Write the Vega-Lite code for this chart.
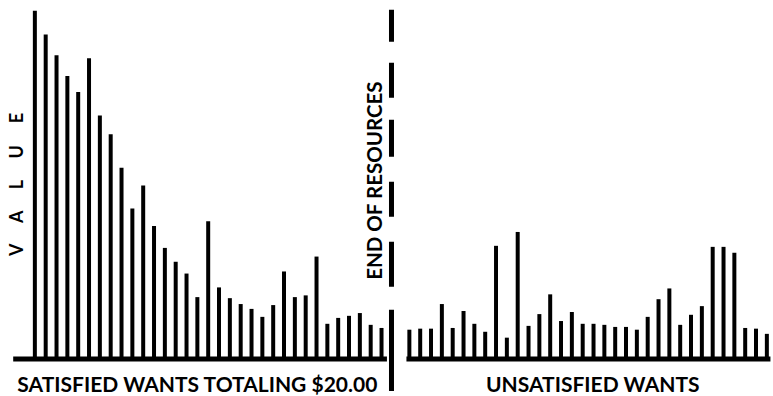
{
  "$schema": "https://vega.github.io/schema/vega-lite/v6.json",
  "width": 773,
  "height": 396,
  "padding": 0,
  "autosize": {"type": "fit", "contains": "padding"},
  "background": "white",
  "config": {"view": {"stroke": null}},
  "datasets": {
    "bars": [
      {"pos": 1, "value": 100.0, "group": "satisfied"},
      {"pos": 2, "value": 93.2, "group": "satisfied"},
      {"pos": 3, "value": 87.2, "group": "satisfied"},
      {"pos": 4, "value": 81.2, "group": "satisfied"},
      {"pos": 5, "value": 76.6, "group": "satisfied"},
      {"pos": 6, "value": 86.3, "group": "satisfied"},
      {"pos": 7, "value": 69.8, "group": "satisfied"},
      {"pos": 8, "value": 64.4, "group": "satisfied"},
      {"pos": 9, "value": 54.7, "group": "satisfied"},
      {"pos": 10, "value": 43.0, "group": "satisfied"},
      {"pos": 11, "value": 49.6, "group": "satisfied"},
      {"pos": 12, "value": 37.9, "group": "satisfied"},
      {"pos": 13, "value": 31.6, "group": "satisfied"},
      {"pos": 14, "value": 27.6, "group": "satisfied"},
      {"pos": 15, "value": 24.2, "group": "satisfied"},
      {"pos": 16, "value": 17.4, "group": "satisfied"},
      {"pos": 17, "value": 39.3, "group": "satisfied"},
      {"pos": 18, "value": 20.2, "group": "satisfied"},
      {"pos": 19, "value": 17.1, "group": "satisfied"},
      {"pos": 20, "value": 15.4, "group": "satisfied"},
      {"pos": 21, "value": 14.0, "group": "satisfied"},
      {"pos": 22, "value": 11.7, "group": "satisfied"},
      {"pos": 23, "value": 15.1, "group": "satisfied"},
      {"pos": 24, "value": 24.8, "group": "satisfied"},
      {"pos": 25, "value": 17.4, "group": "satisfied"},
      {"pos": 26, "value": 17.9, "group": "satisfied"},
      {"pos": 27, "value": 29.1, "group": "satisfied"},
      {"pos": 28, "value": 9.7, "group": "satisfied"},
      {"pos": 29, "value": 11.4, "group": "satisfied"},
      {"pos": 30, "value": 12.0, "group": "satisfied"},
      {"pos": 31, "value": 12.8, "group": "satisfied"},
      {"pos": 32, "value": 9.4, "group": "satisfied"},
      {"pos": 33, "value": 8.5, "group": "satisfied"},
      {"pos": 35.57, "value": 8.0, "group": "unsatisfied"},
      {"pos": 36.57, "value": 8.3, "group": "unsatisfied"},
      {"pos": 37.57, "value": 8.3, "group": "unsatisfied"},
      {"pos": 38.57, "value": 15.4, "group": "unsatisfied"},
      {"pos": 39.57, "value": 8.5, "group": "unsatisfied"},
      {"pos": 40.57, "value": 13.4, "group": "unsatisfied"},
      {"pos": 41.57, "value": 9.7, "group": "unsatisfied"},
      {"pos": 42.57, "value": 7.4, "group": "unsatisfied"},
      {"pos": 43.57, "value": 32.2, "group": "unsatisfied"},
      {"pos": 44.57, "value": 5.7, "group": "unsatisfied"},
      {"pos": 45.57, "value": 36.2, "group": "unsatisfied"},
      {"pos": 46.57, "value": 9.1, "group": "unsatisfied"},
      {"pos": 47.57, "value": 12.5, "group": "unsatisfied"},
      {"pos": 48.57, "value": 18.2, "group": "unsatisfied"},
      {"pos": 49.57, "value": 10.5, "group": "unsatisfied"},
      {"pos": 50.57, "value": 13.1, "group": "unsatisfied"},
      {"pos": 51.57, "value": 9.7, "group": "unsatisfied"},
      {"pos": 52.57, "value": 9.7, "group": "unsatisfied"},
      {"pos": 53.57, "value": 9.4, "group": "unsatisfied"},
      {"pos": 54.57, "value": 8.8, "group": "unsatisfied"},
      {"pos": 55.57, "value": 8.8, "group": "unsatisfied"},
      {"pos": 56.57, "value": 8.0, "group": "unsatisfied"},
      {"pos": 57.57, "value": 11.7, "group": "unsatisfied"},
      {"pos": 58.57, "value": 16.8, "group": "unsatisfied"},
      {"pos": 59.57, "value": 19.9, "group": "unsatisfied"},
      {"pos": 60.57, "value": 9.4, "group": "unsatisfied"},
      {"pos": 61.57, "value": 12.3, "group": "unsatisfied"},
      {"pos": 62.57, "value": 14.8, "group": "unsatisfied"},
      {"pos": 63.57, "value": 31.9, "group": "unsatisfied"},
      {"pos": 64.57, "value": 31.9, "group": "unsatisfied"},
      {"pos": 65.57, "value": 30.2, "group": "unsatisfied"},
      {"pos": 66.57, "value": 8.5, "group": "unsatisfied"},
      {"pos": 67.57, "value": 8.3, "group": "unsatisfied"},
      {"pos": 68.57, "value": 6.8, "group": "unsatisfied"}
    ],
    "baselines": [
      {"start": -1.0, "end": 33.5},
      {"start": 35.3, "end": 68.9}
    ],
    "divider": [
      {"pos": 33.92, "top": 100.3, "bottom": -9.69}
    ],
    "labels": [
      {"label": "SATISFIED WANTS TOTALING $20.00", "pos": 16.0, "value": -8.2},
      {"label": "UNSATISFIED WANTS", "pos": 52.5, "value": -8.2}
    ],
    "vlabels": [
      {"label": "END OF RESOURCES", "pos": 32.45, "value": 51.0, "size": 20.5},
      {"label": "V\u00a0\u00a0\u00a0\u00a0\u00a0A\u00a0\u00a0\u00a0\u00a0\u00a0L\u00a0\u00a0\u00a0\u00a0\u00a0U\u00a0\u00a0\u00a0\u00a0\u00a0E", "pos": -0.56, "value": 49.9, "size": 18}
    ]
  },
  "layer": [
    {
      "data": {"name": "bars"},
      "mark": {"type": "rule", "color": "black", "strokeWidth": 4},
      "encoding": {
        "x": {"field": "pos", "type": "quantitative", "scale": {"domain": [-2.218, 68.86], "nice": false, "zero": false}, "axis": null},
        "y": {"field": "value", "type": "quantitative", "scale": {"domain": [-9.69, 103.13], "nice": false, "zero": false}, "axis": null},
        "y2": {"datum": -0.4}
      }
    },
    {
      "data": {"name": "baselines"},
      "mark": {"type": "rule", "color": "black", "strokeWidth": 5},
      "encoding": {
        "x": {"field": "start", "type": "quantitative"},
        "x2": {"field": "end"},
        "y": {"datum": -0.45, "type": "quantitative"}
      }
    },
    {
      "data": {"name": "divider"},
      "mark": {"type": "rule", "color": "black", "strokeWidth": 5, "strokeDash": [32, 21, 35, 22, 37, 25, 35, 25, 45, 23, 200, 0]},
      "encoding": {
        "x": {"field": "pos", "type": "quantitative"},
        "y": {"field": "top", "type": "quantitative"},
        "y2": {"field": "bottom"}
      }
    },
    {
      "data": {"name": "labels"},
      "mark": {"type": "text", "font": "Lato", "fontWeight": "bold", "fontSize": 21, "color": "black", "align": "center", "baseline": "middle"},
      "encoding": {
        "x": {"field": "pos", "type": "quantitative"},
        "y": {"field": "value", "type": "quantitative"},
        "text": {"field": "label"}
      }
    },
    {
      "data": {"name": "vlabels"},
      "mark": {"type": "text", "font": "Lato", "fontWeight": "bold", "color": "black", "align": "center", "baseline": "middle", "angle": 270},
      "encoding": {
        "x": {"field": "pos", "type": "quantitative"},
        "y": {"field": "value", "type": "quantitative"},
        "text": {"field": "label"},
        "size": {"field": "size", "type": "quantitative", "scale": null}
      }
    }
  ]
}
